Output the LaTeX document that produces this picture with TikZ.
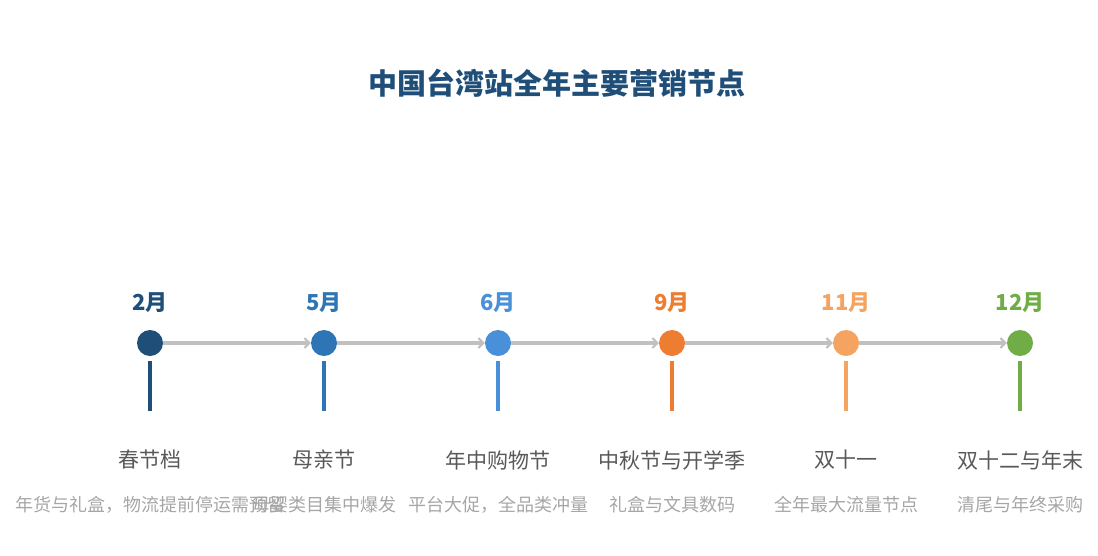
\documentclass[tikz,border=0pt]{standalone}
\usepackage{fontspec}
\setmainfont{Noto Sans CJK SC}
\usetikzlibrary{arrows.meta}

\definecolor{titleblue}{HTML}{1F4E79}
\definecolor{febcol}{HTML}{1F4E79}
\definecolor{maycol}{HTML}{2E75B6}
\definecolor{juncol}{HTML}{4A90D9}
\definecolor{sepcol}{HTML}{ED7D31}
\definecolor{novcol}{HTML}{F4A460}
\definecolor{deccol}{HTML}{70AD47}
\definecolor{linkgray}{HTML}{C0C0C0}
\definecolor{labelgray}{HTML}{595959}
\definecolor{notegray}{HTML}{A6A6A6}

\tikzset{
	dot/.style={circle, inner sep=0pt, minimum size=26pt},
	month/.style={font=\fontsize{22}{26}\selectfont\bfseries},
	label/.style={font=\fontsize{21}{25}\selectfont, text=labelgray},
	note/.style={font=\fontsize{18}{22}\selectfont, text=notegray},
	link/.style={draw=linkgray, line width=3.5pt, -{Straight Barb[length=5pt, width=10pt, line width=2pt]}},
	stem/.style={line width=4pt, shorten <=5pt}
}

\begin{document}
\begin{tikzpicture}[x=1pt, y=-1pt]
		\useasboundingbox (0,0) rectangle (1098,555);

		\node (title)[font=\fontsize{29}{34}\selectfont\bfseries, text=titleblue] at (557,83) {中国台湾站全年主要营销节点};

		\node (p1)[dot, fill=febcol] at (150,343) {};
		\node (p2)[dot, fill=maycol] at (324,343) {};
		\node (p3)[dot, fill=juncol] at (498,343) {};
		\node (p4)[dot, fill=sepcol] at (672,343) {};
		\node (p5)[dot, fill=novcol] at (846,343) {};
		\node (p6)[dot, fill=deccol] at (1020,343) {};

		\node (m1)[month, text=febcol] at (150,303) {2月};
		\node (m2)[month, text=maycol] at (324,303) {5月};
		\node (m3)[month, text=juncol] at (498,303) {6月};
		\node (m4)[month, text=sepcol] at (672,303) {9月};
		\node (m5)[month, text=novcol] at (846,303) {11月};
		\node (m6)[month, text=deccol] at (1020,303) {12月};

		\coordinate (b1) at (150,411);
		\coordinate (b2) at (324,411);
		\coordinate (b3) at (498,411);
		\coordinate (b4) at (672,411);
		\coordinate (b5) at (846,411);
		\coordinate (b6) at (1020,411);

		\draw [stem, febcol](p1)--(b1);
		\draw [stem, maycol](p2)--(b2);
		\draw [stem, juncol](p3)--(b3);
		\draw [stem, sepcol](p4)--(b4);
		\draw [stem, novcol](p5)--(b5);
		\draw [stem, deccol](p6)--(b6);

		\draw [link](p1)--(p2);
		\draw [link](p2)--(p3);
		\draw [link](p3)--(p4);
		\draw [link](p4)--(p5);
		\draw [link](p5)--(p6);

		\node (l1)[label] at (150,460) {春节档};
		\node (l2)[label] at (324,460) {母亲节};
		\node (l3)[label] at (498,460) {年中购物节};
		\node (l4)[label] at (672,460) {中秋节与开学季};
		\node (l5)[label] at (846,460) {双十一};
		\node (l6)[label] at (1020,460) {双十二与年末};

		\node (n1)[note] at (150,505) {年货与礼盒，物流提前停运需预留};
		\node (n2)[note] at (324,505) {母婴类目集中爆发};
		\node (n3)[note] at (498,505) {平台大促，全品类冲量};
		\node (n4)[note] at (672,505) {礼盒与文具数码};
		\node (n5)[note] at (846,505) {全年最大流量节点};
		\node (n6)[note] at (1020,505) {清尾与年终采购};
	\end{tikzpicture}
\end{document}
